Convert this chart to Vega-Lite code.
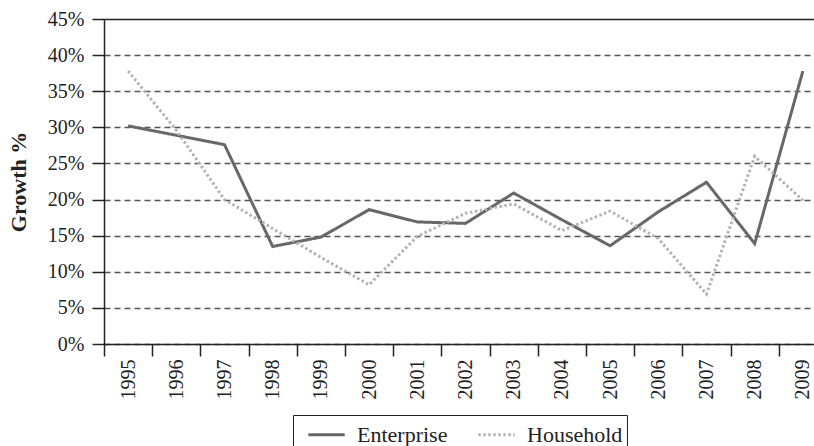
{
  "$schema": "https://vega.github.io/schema/vega-lite/v6.json",
  "autosize": {"type": "none"},
  "padding": {"left": 104, "top": 19, "right": 0, "bottom": 110},
  "width": 723,
  "height": 325,
  "background": "white",
  "data": {
    "values": [
      {"year": "1995", "series": "Enterprise", "growth": 30.2},
      {"year": "1996", "series": "Enterprise", "growth": 28.9},
      {"year": "1997", "series": "Enterprise", "growth": 27.6},
      {"year": "1998", "series": "Enterprise", "growth": 13.5},
      {"year": "1999", "series": "Enterprise", "growth": 14.8},
      {"year": "2000", "series": "Enterprise", "growth": 18.6},
      {"year": "2001", "series": "Enterprise", "growth": 16.9},
      {"year": "2002", "series": "Enterprise", "growth": 16.7},
      {"year": "2003", "series": "Enterprise", "growth": 20.9},
      {"year": "2004", "series": "Enterprise", "growth": 17.2},
      {"year": "2005", "series": "Enterprise", "growth": 13.6},
      {"year": "2006", "series": "Enterprise", "growth": 18.3},
      {"year": "2007", "series": "Enterprise", "growth": 22.4},
      {"year": "2008", "series": "Enterprise", "growth": 13.9},
      {"year": "2009", "series": "Enterprise", "growth": 37.8},
      {"year": "1995", "series": "Household", "growth": 37.8},
      {"year": "1996", "series": "Household", "growth": 29.6},
      {"year": "1997", "series": "Household", "growth": 20.0},
      {"year": "1998", "series": "Household", "growth": 16.0},
      {"year": "1999", "series": "Household", "growth": 12.0},
      {"year": "2000", "series": "Household", "growth": 8.2},
      {"year": "2001", "series": "Household", "growth": 14.9},
      {"year": "2002", "series": "Household", "growth": 18.1},
      {"year": "2003", "series": "Household", "growth": 19.4},
      {"year": "2004", "series": "Household", "growth": 15.7},
      {"year": "2005", "series": "Household", "growth": 18.4},
      {"year": "2006", "series": "Household", "growth": 14.6},
      {"year": "2007", "series": "Household", "growth": 6.9},
      {"year": "2008", "series": "Household", "growth": 26.0},
      {"year": "2009", "series": "Household", "growth": 19.9}
    ]
  },
  "mark": {"type": "line", "strokeWidth": 3},
  "encoding": {
    "x": {
      "field": "year",
      "type": "ordinal",
      "scale": {"type": "band", "paddingInner": 0, "paddingOuter": 0},
      "axis": {
        "title": null,
        "tickBand": "extent",
        "labelAngle": -90,
        "labelFont": "Liberation Serif",
        "labelFontSize": 20,
        "labelColor": "#222",
        "labelPadding": 3,
        "tickSize": 12,
        "tickColor": "#222",
        "tickWidth": 1.5,
        "domainColor": "#222",
        "domainWidth": 1.5,
        "grid": false
      }
    },
    "y": {
      "field": "growth",
      "type": "quantitative",
      "scale": {"domain": [0, 45], "nice": false, "zero": true},
      "axis": {
        "title": "Growth %",
        "titleFont": "Liberation Serif",
        "titleFontSize": 22,
        "titleFontWeight": "bold",
        "titleColor": "#222",
        "titlePadding": 17,
        "values": [0, 5, 10, 15, 20, 25, 30, 35, 40, 45],
        "labelExpr": "datum.value + '%'",
        "labelFont": "Liberation Serif",
        "labelFontSize": 20,
        "labelColor": "#222",
        "labelPadding": 8,
        "tickSize": 12,
        "tickColor": "#222",
        "tickWidth": 1.5,
        "domainColor": "#222",
        "domainWidth": 1.5,
        "grid": true,
        "gridColor": {"condition": {"test": "datum.value === 45", "value": "#222"}, "value": "#555"},
        "gridDash": {"condition": {"test": "datum.value === 45", "value": []}, "value": [6, 4]},
        "gridWidth": {"condition": {"test": "datum.value === 45", "value": 1.5}, "value": 1.3}
      }
    },
    "color": {
      "field": "series",
      "type": "nominal",
      "scale": {"domain": ["Enterprise", "Household"], "range": ["#686868", "#b3b3b3"]},
      "legend": {
        "title": null,
        "orient": "none",
        "legendX": 189,
        "legendY": 396,
        "direction": "horizontal",
        "strokeColor": "#222",
        "padding": 4,
        "symbolOffset": 14,
        "columnPadding": 19,
        "symbolType": "M-1.3,0H1.3",
        "symbolSize": 784,
        "symbolStrokeWidth": 3,
        "labelFont": "Liberation Serif",
        "labelFontSize": 22,
        "labelColor": "#222",
        "labelOffset": 15
      }
    },
    "strokeDash": {
      "field": "series",
      "type": "nominal",
      "scale": {"domain": ["Enterprise", "Household"], "range": [[1, 0], [2.5, 2.5]]},
      "legend": {
        "title": null,
        "orient": "none",
        "legendX": 189,
        "legendY": 396,
        "direction": "horizontal",
        "strokeColor": "#222",
        "padding": 4,
        "symbolOffset": 14,
        "columnPadding": 19,
        "symbolType": "M-1.3,0H1.3",
        "symbolSize": 784,
        "symbolStrokeWidth": 3,
        "labelFont": "Liberation Serif",
        "labelFontSize": 22,
        "labelColor": "#222",
        "labelOffset": 15
      }
    }
  },
  "config": {
    "view": {"stroke": null}
  }
}
